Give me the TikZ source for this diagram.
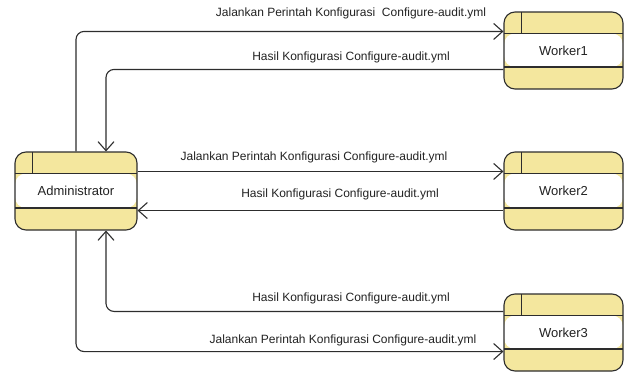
\documentclass[tikz,border=0pt]{standalone}
\usepackage{fontspec}
\setmainfont{Liberation Sans}
\usetikzlibrary{arrows.meta}
\definecolor{boxy}{RGB}{244,231,158}
\definecolor{linec}{RGB}{45,45,45}
\definecolor{txtc}{RGB}{34,34,34}
\tikzset{
  procbox/.style={draw=linec, line width=1.1pt, rounded corners=11pt, fill=boxy,
    minimum width=#1, minimum height=77pt, inner sep=0pt, text=txtc,
    font=\fontsize{13}{15}\selectfont,
    path picture={
      \fill[white] ([yshift=-21.5pt]path picture bounding box.north west) rectangle ([yshift=22pt]path picture bounding box.south east);
      \draw[linec, line width=1.1pt] ([yshift=-21.5pt]path picture bounding box.north west) -- ([yshift=-21.5pt]path picture bounding box.north east);
      \draw[linec, line width=1.1pt] ([yshift=22pt]path picture bounding box.south west) -- ([yshift=22pt]path picture bounding box.south east);
      \draw[linec, line width=1.1pt] ([xshift=17.5pt]path picture bounding box.north west) -- ([xshift=17.5pt,yshift=-21.5pt]path picture bounding box.north west);
    }},
  conn/.style={draw=linec, line width=1.1pt, rounded corners=8pt,
    -{Straight Barb[length=9pt,width=16pt,line width=1.1pt]}},
  lbl/.style={text=txtc, font=\fontsize{12}{14}\selectfont, inner sep=0pt}
}
\begin{document}
\begin{tikzpicture}[x=1pt,y=-1pt]
\useasboundingbox (0,0) rectangle (624,372);
\node[procbox=122pt, minimum height=78pt] (admin) at (76,191) {Administrator};
\node[procbox=119pt] (w1) at (563.5,50.5) {Worker1};
\node[procbox=119pt, minimum height=78pt] (w2) at (563.5,191) {Worker2};
\node[procbox=119pt] (w3) at (563.5,332.5) {Worker3};

\draw[conn] (admin.north) |- ([yshift=-20pt]w1.north west);
\draw[conn] ([yshift=-58pt]w1.north west) -| ([xshift=30pt]admin.north);
\draw[conn] ([yshift=-20pt]admin.north east) -- ([yshift=-20pt]w2.north west);
\draw[conn] ([yshift=20pt]w2.south west) -- ([yshift=20pt]admin.south east);
\draw[conn] ([yshift=-18pt]w3.north west) -| ([xshift=30pt]admin.south);
\draw[conn] (admin.south) |- ([yshift=20pt]w3.south west);

\node[lbl] (l1) at (351,13) {Jalankan Perintah Konfigurasi\ \ Configure-audit.yml};
\node[lbl] (l2) at (351,57) {Hasil Konfigurasi Configure-audit.yml};
\node[lbl] (l3) at (314,157) {Jalankan Perintah Konfigurasi Configure-audit.yml};
\node[lbl] (l4) at (340,194) {Hasil Konfigurasi Configure-audit.yml};
\node[lbl] (l5) at (351,298) {Hasil Konfigurasi Configure-audit.yml};
\node[lbl] (l6) at (343,340) {Jalankan Perintah Konfigurasi Configure-audit.yml};
\end{tikzpicture}
\end{document}
